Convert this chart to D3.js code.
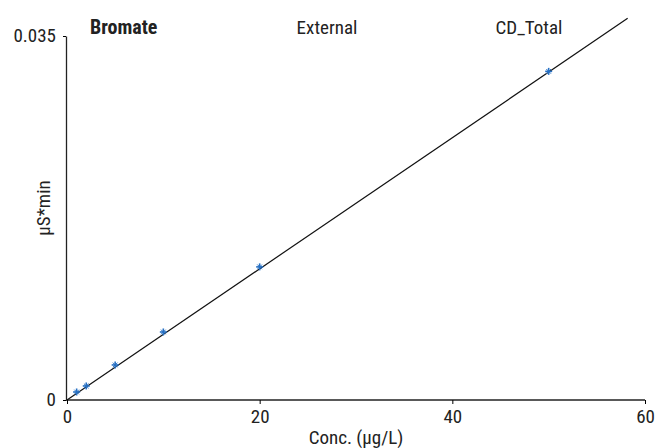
<!DOCTYPE html>
<html lang="en">
<head>
<meta charset="UTF-8">
<title>Bromate calibration</title>
<script src="https://d3js.org/d3.v7.min.js"></script>
<style>
  body { margin: 0; background: #fff; }
  svg text { font-family: "Liberation Sans Narrow", "Roboto Condensed", "DejaVu Sans Condensed", sans-serif; fill: #222; }
</style>
</head>
<body>
<div id="chart"></div>
<script>
// 数据：浓度 与 峰面积
const conc = [1, 2, 5, 10, 20, 50];
const area = [0.00077, 0.00135, 0.00337, 0.00654, 0.0128, 0.0316];
const fitX = [0, 58.2];
const fitY = [0, 0.0367];
const xTicks = [0, 20, 40, 60];
const yTicks = [0, 0.035];
const titles = ["Bromate", "External", "CD_Total"];

const W = 655, H = 448;
const svg = d3.select("#chart").append("svg")
  .attr("width", W).attr("height", H);

const x = d3.scaleLinear().domain([0, 60]).range([67, 645]);
const y = d3.scaleLinear().domain([0, 0.035]).range([400, 36]);

// 坐标轴
const xAxis = svg.append("g")
  .attr("transform", "translate(0,400)")
  .call(d3.axisBottom(x).tickValues(xTicks).tickFormat(d3.format("d")).tickSize(4).tickSizeOuter(0));
xAxis.select(".domain").attr("stroke", "#222").attr("stroke-width", 1.3).attr("d", "M66,0H645");
xAxis.selectAll("text").attr("font-size", 19).attr("y", 10).attr("dy", "0.71em");

const yAxis = svg.append("g")
  .attr("transform", "translate(66,0)")
  .call(d3.axisLeft(y).tickValues(yTicks).tickFormat(d => d === 0 ? "0" : d3.format(".3f")(d)).tickSize(3).tickSizeOuter(0));
yAxis.select(".domain").attr("stroke", "#222").attr("stroke-width", 1.3);
yAxis.selectAll("text").attr("font-size", 19).attr("x", -10).attr("dy", "0.3em");

// 轴标题
svg.append("text")
  .attr("x", (x(0) + x(60)) / 2).attr("y", 444)
  .attr("text-anchor", "middle").attr("font-size", 19)
  .text("Conc. (µg/L)");
svg.append("text")
  .attr("transform", "translate(50,208) rotate(-90)")
  .attr("text-anchor", "middle").attr("font-size", 19)
  .text("µS*min");

// 标题
svg.append("text").attr("x", 90).attr("y", 34).attr("font-size", 20).attr("font-weight", "bold").text(titles[0]);
svg.append("text").attr("x", 327).attr("y", 34).attr("font-size", 19).attr("text-anchor", "middle").text(titles[1]);
svg.append("text").attr("x", 529).attr("y", 34).attr("font-size", 19).attr("text-anchor", "middle").text(titles[2]);

// 拟合线
svg.append("line")
  .attr("x1", x(fitX[0])).attr("y1", y(fitY[0]))
  .attr("x2", x(fitX[1])).attr("y2", y(fitY[1]))
  .attr("stroke", "#111").attr("stroke-width", 1.2);

// 数据点（星号）
const pts = svg.selectAll(".pt")
  .data(conc.map((c, i) => [c, area[i]]))
  .enter().append("g")
  .attr("class", "pt")
  .attr("transform", d => `translate(${x(d[0])},${y(d[1])})`)
  .attr("stroke", "#2670c4").attr("stroke-width", 1.6);
pts.append("line").attr("x1", -3.5).attr("x2", 3.5);
pts.append("line").attr("y1", -3.5).attr("y2", 3.5);
pts.append("line").attr("x1", -2.3).attr("y1", -2.3).attr("x2", 2.3).attr("y2", 2.3).attr("stroke-width", 1);
pts.append("line").attr("x1", -2.3).attr("y1", 2.3).attr("x2", 2.3).attr("y2", -2.3).attr("stroke-width", 1);
</script>
</body>
</html>
